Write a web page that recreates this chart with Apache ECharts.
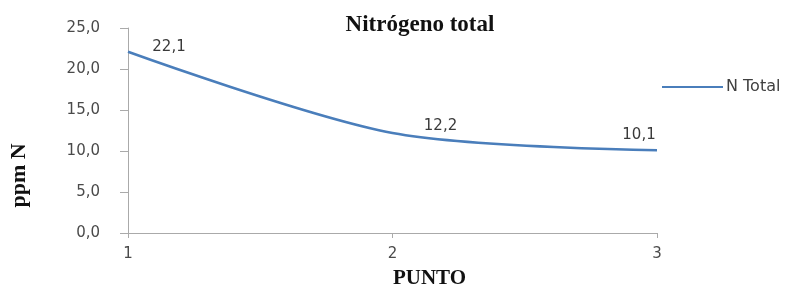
<!DOCTYPE html>
<html lang="es">
<head>
<meta charset="utf-8">
<title>Nitrógeno total</title>
<script src="https://cdn.jsdelivr.net/npm/echarts@6/dist/echarts.min.js"></script>
<style>
  html, body { margin: 0; padding: 0; background: #fff; }
  #chart { width: 808px; height: 289px; }
</style>
</head>
<body>
<div id="chart"></div>
<script>
// datos
var puntos = ['1', '2', '3'];
var nTotal = [22.1, 12.2, 10.1];
var yTicks = [0, 5, 10, 15, 20, 25];

function coma(v, d) {
  return v.toFixed(d).replace('.', ',');
}

var chart = echarts.init(document.getElementById('chart'));

// desplazamiento de cada etiqueta respecto a su punto (como en la hoja original)
var labelPos = [[41, -5], [48, -7], [-18, -15]];

var option = {
  animation: false,
  title: {
    text: 'Nitrógeno total',
    left: 415,
    textAlign: 'center',
    top: 9,
    textStyle: {
      fontFamily: 'Liberation Serif',
      fontWeight: 'bold',
      fontSize: 23,
      color: '#111'
    }
  },
  legend: {
    data: ['N Total'],
    left: 657,
    top: 74,
    itemWidth: 61,
    itemHeight: 12,
    itemGap: 2,
    icon: 'path://M0,5 L60,5 L60,7 L0,7 Z',
    textStyle: { fontFamily: 'DejaVu Sans', fontSize: 16, color: '#404040', padding: [0, 0, 0, -2] }
  },
  grid: { left: 128, right: 151, top: 28, bottom: 56, containLabel: false, outerBoundsMode: 'none' },
  xAxis: {
    type: 'category',
    data: puntos,
    boundaryGap: false,
    name: 'PUNTO',
    nameLocation: 'middle',
    nameGap: 35,
    nameTextStyle: {
      fontFamily: 'Liberation Serif', fontWeight: 'bold', fontSize: 21, color: '#111',
      padding: [0, 0, 0, 74]
    },
    axisLine: { lineStyle: { color: '#aaaaaa', width: 1 } },
    axisTick: { show: true, length: 5, lineStyle: { color: '#aaaaaa' } },
    axisLabel: { fontFamily: 'DejaVu Sans', fontSize: 15, color: '#4a4a4a', margin: 14 },
    splitLine: { show: false }
  },
  yAxis: {
    type: 'value',
    min: yTicks[0],
    max: yTicks[yTicks.length - 1],
    interval: yTicks[1] - yTicks[0],
    name: 'ppm N',
    nameLocation: 'middle',
    nameGap: 98,
    nameRotate: 90,
    nameTextStyle: {
      fontFamily: 'Liberation Serif', fontWeight: 'bold', fontSize: 22, color: '#111',
      padding: [0, 90, 0, 0]
    },
    axisLine: { show: true, lineStyle: { color: '#aaaaaa', width: 1 } },
    axisTick: { show: true, length: 8, lineStyle: { color: '#aaaaaa' } },
    axisLabel: {
      fontFamily: 'DejaVu Sans', fontSize: 15, color: '#4a4a4a', margin: 28,
      formatter: function (v) { return coma(v, 1); }
    },
    splitLine: { show: false }
  },
  series: [{
    name: 'N Total',
    type: 'line',
    data: nTotal.map(function (v, i) {
      return { value: v, label: { offset: labelPos[i] } };
    }),
    smooth: 0.3,
    symbol: 'circle',
    symbolSize: 0.1,
    showSymbol: true,
    lineStyle: { color: '#4a7ebb', width: 2.5 },
    itemStyle: { color: '#4a7ebb' },
    label: {
      show: true,
      position: 'inside',
      fontFamily: 'DejaVu Sans',
      fontSize: 15,
      color: '#3a3a3a',
      formatter: function (p) { return coma(p.value, 1); }
    }
  }]
};

chart.setOption(option);
</script>
</body>
</html>
